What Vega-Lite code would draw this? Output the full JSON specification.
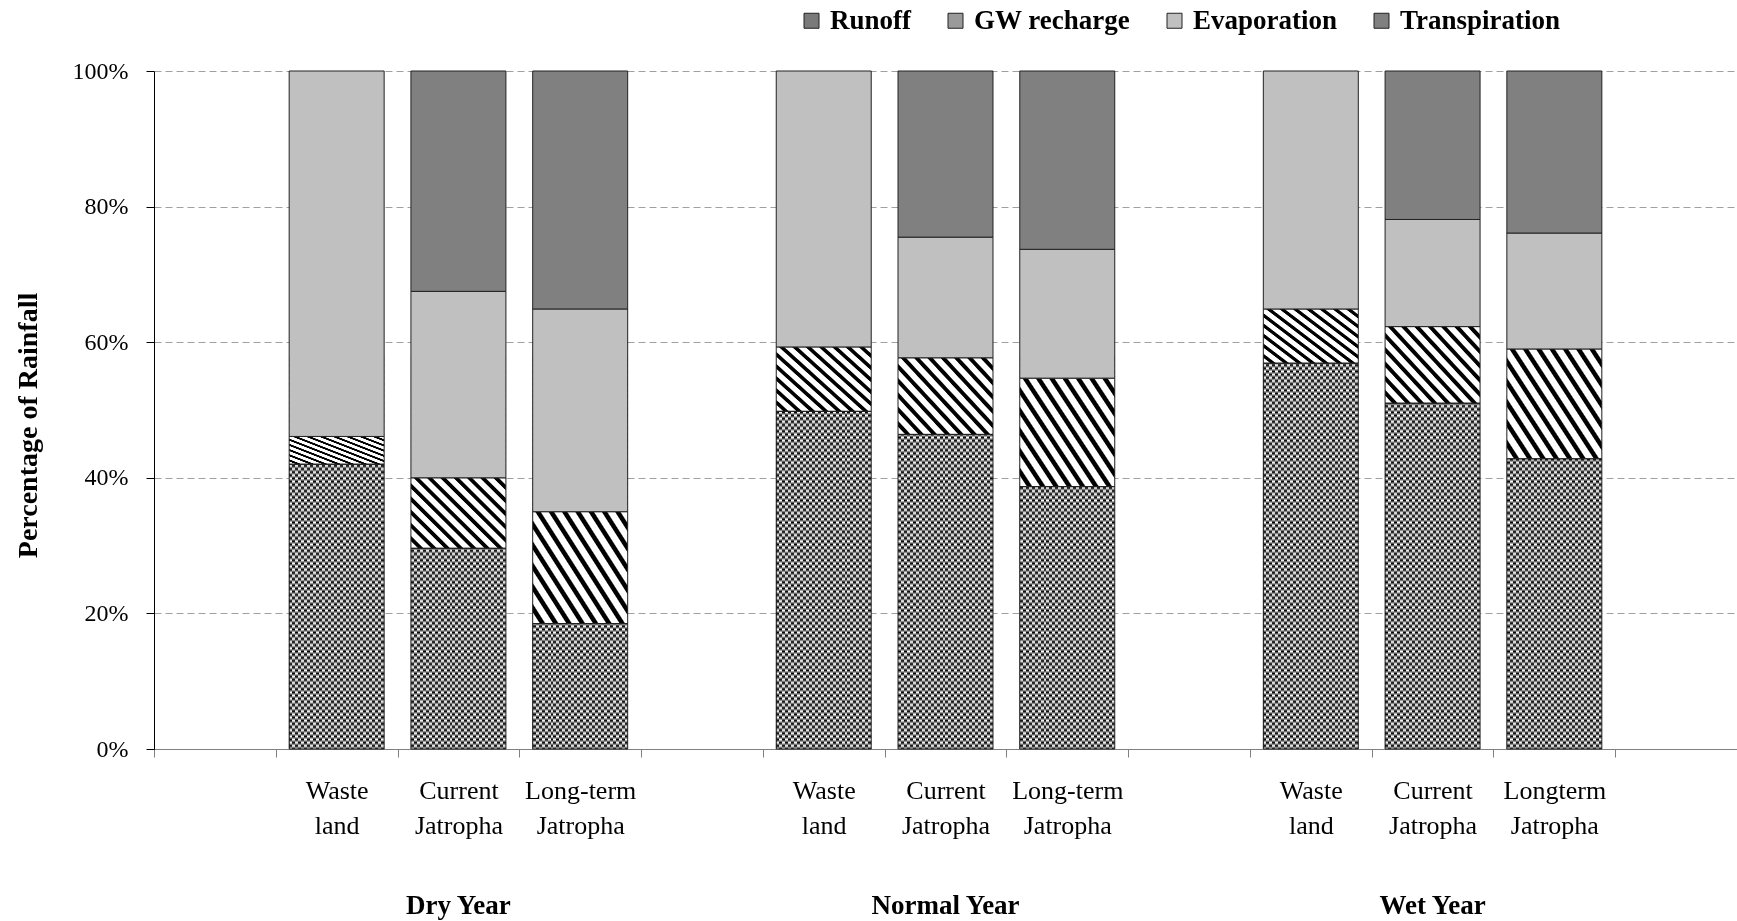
{
  "$schema": "https://vega.github.io/schema/vega-lite/v6.json",
  "width": 1583,
  "height": 678,
  "autosize": {"type": "none"},
  "padding": {"left": 154, "top": 71, "right": 0, "bottom": 172},
  "background": "white",
  "config": {
    "view": {"stroke": null},
    "font": "Liberation Serif",
    "legend": {
      "orient": "none",
      "legendX": 644,
      "legendY": -64,
      "direction": "horizontal",
      "title": null,
      "padding": 0,
      "labelFont": "Liberation Serif",
      "labelFontSize": 27,
      "labelFontWeight": "bold",
      "labelColor": "#000",
      "labelLimit": 0,
      "labelOffset": 5,
      "symbolType": "square",
      "symbolSize": 225,
      "symbolStrokeColor": "#222",
      "symbolStrokeWidth": 1,
      "columnPadding": 30
    }
  },
  "data": {
    "values": [
      {"year": "Dry Year", "bar": "Dry Year / Waste land", "component": "Runoff", "value": 42.0},
      {"year": "Dry Year", "bar": "Dry Year / Waste land", "component": "GW recharge", "value": 4.1},
      {"year": "Dry Year", "bar": "Dry Year / Waste land", "component": "Evaporation", "value": 53.9},
      {"year": "Dry Year", "bar": "Dry Year / Current Jatropha", "component": "Runoff", "value": 29.6},
      {"year": "Dry Year", "bar": "Dry Year / Current Jatropha", "component": "GW recharge", "value": 10.4},
      {"year": "Dry Year", "bar": "Dry Year / Current Jatropha", "component": "Evaporation", "value": 27.5},
      {"year": "Dry Year", "bar": "Dry Year / Current Jatropha", "component": "Transpiration", "value": 32.5},
      {"year": "Dry Year", "bar": "Dry Year / Long-term Jatropha", "component": "Runoff", "value": 18.5},
      {"year": "Dry Year", "bar": "Dry Year / Long-term Jatropha", "component": "GW recharge", "value": 16.5},
      {"year": "Dry Year", "bar": "Dry Year / Long-term Jatropha", "component": "Evaporation", "value": 29.9},
      {"year": "Dry Year", "bar": "Dry Year / Long-term Jatropha", "component": "Transpiration", "value": 35.1},
      {"year": "Normal Year", "bar": "Normal Year / Waste land", "component": "Runoff", "value": 49.8},
      {"year": "Normal Year", "bar": "Normal Year / Waste land", "component": "GW recharge", "value": 9.5},
      {"year": "Normal Year", "bar": "Normal Year / Waste land", "component": "Evaporation", "value": 40.7},
      {"year": "Normal Year", "bar": "Normal Year / Current Jatropha", "component": "Runoff", "value": 46.4},
      {"year": "Normal Year", "bar": "Normal Year / Current Jatropha", "component": "GW recharge", "value": 11.3},
      {"year": "Normal Year", "bar": "Normal Year / Current Jatropha", "component": "Evaporation", "value": 17.8},
      {"year": "Normal Year", "bar": "Normal Year / Current Jatropha", "component": "Transpiration", "value": 24.5},
      {"year": "Normal Year", "bar": "Normal Year / Long-term Jatropha", "component": "Runoff", "value": 38.7},
      {"year": "Normal Year", "bar": "Normal Year / Long-term Jatropha", "component": "GW recharge", "value": 16.0},
      {"year": "Normal Year", "bar": "Normal Year / Long-term Jatropha", "component": "Evaporation", "value": 19.0},
      {"year": "Normal Year", "bar": "Normal Year / Long-term Jatropha", "component": "Transpiration", "value": 26.3},
      {"year": "Wet Year", "bar": "Wet Year / Waste land", "component": "Runoff", "value": 56.9},
      {"year": "Wet Year", "bar": "Wet Year / Waste land", "component": "GW recharge", "value": 8.0},
      {"year": "Wet Year", "bar": "Wet Year / Waste land", "component": "Evaporation", "value": 35.1},
      {"year": "Wet Year", "bar": "Wet Year / Current Jatropha", "component": "Runoff", "value": 51.0},
      {"year": "Wet Year", "bar": "Wet Year / Current Jatropha", "component": "GW recharge", "value": 11.3},
      {"year": "Wet Year", "bar": "Wet Year / Current Jatropha", "component": "Evaporation", "value": 15.8},
      {"year": "Wet Year", "bar": "Wet Year / Current Jatropha", "component": "Transpiration", "value": 21.9},
      {"year": "Wet Year", "bar": "Wet Year / Longterm Jatropha", "component": "Runoff", "value": 42.8},
      {"year": "Wet Year", "bar": "Wet Year / Longterm Jatropha", "component": "GW recharge", "value": 16.2},
      {"year": "Wet Year", "bar": "Wet Year / Longterm Jatropha", "component": "Evaporation", "value": 17.1},
      {"year": "Wet Year", "bar": "Wet Year / Longterm Jatropha", "component": "Transpiration", "value": 23.9}
    ]
  },
  "transform": [
    {"calculate": "indexof(['Runoff','GW recharge','Evaporation','Transpiration'], datum.component)", "as": "k"},
    {"stack": "value", "groupby": ["bar"], "sort": [{"field": "k", "order": "ascending"}], "as": ["y0", "y1"]}
  ],
  "encoding": {
    "x": {
      "field": "bar",
      "type": "nominal",
      "sort": null,
      "title": null,
      "scale": {
        "domain": ["gap1", "Dry Year / Waste land", "Dry Year / Current Jatropha", "Dry Year / Long-term Jatropha", "gap2", "Normal Year / Waste land", "Normal Year / Current Jatropha", "Normal Year / Long-term Jatropha", "gap3", "Wet Year / Waste land", "Wet Year / Current Jatropha", "Wet Year / Longterm Jatropha", "gap4"],
        "paddingInner": 0,
        "paddingOuter": 0
      },
      "axis": {
        "labelExpr": "indexof(datum.label, ' / ') < 0 ? '' : split(split(datum.label, ' / ')[1], ' ')",
        "labelAngle": 0,
        "labelFont": "Liberation Serif",
        "labelFontSize": 26,
        "labelLineHeight": 35,
        "labelPadding": 20,
        "labelColor": "#000",
        "tickBand": "extent",
        "tickSize": 8,
        "tickColor": "#808080",
        "domainColor": "#808080",
        "grid": false
      }
    }
  },
  "layer": [
    {
      "transform": [{"filter": "datum.component === 'Runoff'"}],
      "mark": {
        "type": "bar",
        "width": {"band": 0.78},
        "strokeWidth": 0,
        "fill": {"gradient": "linear", "x1": 0, "y1": 0, "x2": 1, "y2": 0, "stops": [
          {"offset": 0, "color": "#000"}, {"offset": 0.03125, "color": "#000"},
          {"offset": 0.03125, "color": "#fff"}, {"offset": 0.0625, "color": "#fff"},
          {"offset": 0.0625, "color": "#000"}, {"offset": 0.09375, "color": "#000"},
          {"offset": 0.09375, "color": "#fff"}, {"offset": 0.125, "color": "#fff"},
          {"offset": 0.125, "color": "#000"}, {"offset": 0.15625, "color": "#000"},
          {"offset": 0.15625, "color": "#fff"}, {"offset": 0.1875, "color": "#fff"},
          {"offset": 0.1875, "color": "#000"}, {"offset": 0.21875, "color": "#000"},
          {"offset": 0.21875, "color": "#fff"}, {"offset": 0.25, "color": "#fff"},
          {"offset": 0.25, "color": "#000"}, {"offset": 0.28125, "color": "#000"},
          {"offset": 0.28125, "color": "#fff"}, {"offset": 0.3125, "color": "#fff"},
          {"offset": 0.3125, "color": "#000"}, {"offset": 0.34375, "color": "#000"},
          {"offset": 0.34375, "color": "#fff"}, {"offset": 0.375, "color": "#fff"},
          {"offset": 0.375, "color": "#000"}, {"offset": 0.40625, "color": "#000"},
          {"offset": 0.40625, "color": "#fff"}, {"offset": 0.4375, "color": "#fff"},
          {"offset": 0.4375, "color": "#000"}, {"offset": 0.46875, "color": "#000"},
          {"offset": 0.46875, "color": "#fff"}, {"offset": 0.5, "color": "#fff"},
          {"offset": 0.5, "color": "#000"}, {"offset": 0.53125, "color": "#000"},
          {"offset": 0.53125, "color": "#fff"}, {"offset": 0.5625, "color": "#fff"},
          {"offset": 0.5625, "color": "#000"}, {"offset": 0.59375, "color": "#000"},
          {"offset": 0.59375, "color": "#fff"}, {"offset": 0.625, "color": "#fff"},
          {"offset": 0.625, "color": "#000"}, {"offset": 0.65625, "color": "#000"},
          {"offset": 0.65625, "color": "#fff"}, {"offset": 0.6875, "color": "#fff"},
          {"offset": 0.6875, "color": "#000"}, {"offset": 0.71875, "color": "#000"},
          {"offset": 0.71875, "color": "#fff"}, {"offset": 0.75, "color": "#fff"},
          {"offset": 0.75, "color": "#000"}, {"offset": 0.78125, "color": "#000"},
          {"offset": 0.78125, "color": "#fff"}, {"offset": 0.8125, "color": "#fff"},
          {"offset": 0.8125, "color": "#000"}, {"offset": 0.84375, "color": "#000"},
          {"offset": 0.84375, "color": "#fff"}, {"offset": 0.875, "color": "#fff"},
          {"offset": 0.875, "color": "#000"}, {"offset": 0.90625, "color": "#000"},
          {"offset": 0.90625, "color": "#fff"}, {"offset": 0.9375, "color": "#fff"},
          {"offset": 0.9375, "color": "#000"}, {"offset": 0.96875, "color": "#000"},
          {"offset": 0.96875, "color": "#fff"}, {"offset": 1, "color": "#fff"}
        ]}
      },
      "encoding": {
        "y": {"field": "y0", "type": "quantitative", "title": "Percentage of Rainfall", "scale": {"domain": [0, 100]}},
        "y2": {"field": "y1"}
      }
    },
    {
      "transform": [{"filter": "datum.component === 'Runoff'"}],
      "mark": {
        "type": "bar",
        "width": {"band": 0.78},
        "strokeWidth": 0,
        "blend": "difference",
        "fill": {"gradient": "linear", "x1": 0, "y1": 0, "x2": 0, "y2": 1, "stops": [
          {"offset": 0, "color": "#000"}, {"offset": 0.008, "color": "#fff"}, {"offset": 0.016, "color": "#000"}, {"offset": 0.024, "color": "#fff"},
          {"offset": 0.032, "color": "#000"}, {"offset": 0.04, "color": "#fff"}, {"offset": 0.048, "color": "#000"}, {"offset": 0.056, "color": "#fff"},
          {"offset": 0.064, "color": "#000"}, {"offset": 0.072, "color": "#fff"}, {"offset": 0.08, "color": "#000"}, {"offset": 0.088, "color": "#fff"},
          {"offset": 0.096, "color": "#000"}, {"offset": 0.104, "color": "#fff"}, {"offset": 0.112, "color": "#000"}, {"offset": 0.12, "color": "#fff"},
          {"offset": 0.128, "color": "#000"}, {"offset": 0.136, "color": "#fff"}, {"offset": 0.144, "color": "#000"}, {"offset": 0.152, "color": "#fff"},
          {"offset": 0.16, "color": "#000"}, {"offset": 0.168, "color": "#fff"}, {"offset": 0.176, "color": "#000"}, {"offset": 0.184, "color": "#fff"},
          {"offset": 0.192, "color": "#000"}, {"offset": 0.2, "color": "#fff"}, {"offset": 0.208, "color": "#000"}, {"offset": 0.216, "color": "#fff"},
          {"offset": 0.224, "color": "#000"}, {"offset": 0.232, "color": "#fff"}, {"offset": 0.24, "color": "#000"}, {"offset": 0.248, "color": "#fff"},
          {"offset": 0.256, "color": "#000"}, {"offset": 0.264, "color": "#fff"}, {"offset": 0.272, "color": "#000"}, {"offset": 0.28, "color": "#fff"},
          {"offset": 0.288, "color": "#000"}, {"offset": 0.296, "color": "#fff"}, {"offset": 0.304, "color": "#000"}, {"offset": 0.312, "color": "#fff"},
          {"offset": 0.32, "color": "#000"}, {"offset": 0.328, "color": "#fff"}, {"offset": 0.336, "color": "#000"}, {"offset": 0.344, "color": "#fff"},
          {"offset": 0.352, "color": "#000"}, {"offset": 0.36, "color": "#fff"}, {"offset": 0.368, "color": "#000"}, {"offset": 0.376, "color": "#fff"},
          {"offset": 0.384, "color": "#000"}, {"offset": 0.392, "color": "#fff"}, {"offset": 0.4, "color": "#000"}, {"offset": 0.408, "color": "#fff"},
          {"offset": 0.416, "color": "#000"}, {"offset": 0.424, "color": "#fff"}, {"offset": 0.432, "color": "#000"}, {"offset": 0.44, "color": "#fff"},
          {"offset": 0.448, "color": "#000"}, {"offset": 0.456, "color": "#fff"}, {"offset": 0.464, "color": "#000"}, {"offset": 0.472, "color": "#fff"},
          {"offset": 0.48, "color": "#000"}, {"offset": 0.488, "color": "#fff"}, {"offset": 0.496, "color": "#000"}, {"offset": 0.504, "color": "#fff"},
          {"offset": 0.512, "color": "#000"}, {"offset": 0.52, "color": "#fff"}, {"offset": 0.528, "color": "#000"}, {"offset": 0.536, "color": "#fff"},
          {"offset": 0.544, "color": "#000"}, {"offset": 0.552, "color": "#fff"}, {"offset": 0.56, "color": "#000"}, {"offset": 0.568, "color": "#fff"},
          {"offset": 0.576, "color": "#000"}, {"offset": 0.584, "color": "#fff"}, {"offset": 0.592, "color": "#000"}, {"offset": 0.6, "color": "#fff"},
          {"offset": 0.608, "color": "#000"}, {"offset": 0.616, "color": "#fff"}, {"offset": 0.624, "color": "#000"}, {"offset": 0.632, "color": "#fff"},
          {"offset": 0.64, "color": "#000"}, {"offset": 0.648, "color": "#fff"}, {"offset": 0.656, "color": "#000"}, {"offset": 0.664, "color": "#fff"},
          {"offset": 0.672, "color": "#000"}, {"offset": 0.68, "color": "#fff"}, {"offset": 0.688, "color": "#000"}, {"offset": 0.696, "color": "#fff"},
          {"offset": 0.704, "color": "#000"}, {"offset": 0.712, "color": "#fff"}, {"offset": 0.72, "color": "#000"}, {"offset": 0.728, "color": "#fff"},
          {"offset": 0.736, "color": "#000"}, {"offset": 0.744, "color": "#fff"}, {"offset": 0.752, "color": "#000"}, {"offset": 0.76, "color": "#fff"},
          {"offset": 0.768, "color": "#000"}, {"offset": 0.776, "color": "#fff"}, {"offset": 0.784, "color": "#000"}, {"offset": 0.792, "color": "#fff"},
          {"offset": 0.8, "color": "#000"}, {"offset": 0.808, "color": "#fff"}, {"offset": 0.816, "color": "#000"}, {"offset": 0.824, "color": "#fff"},
          {"offset": 0.832, "color": "#000"}, {"offset": 0.84, "color": "#fff"}, {"offset": 0.848, "color": "#000"}, {"offset": 0.856, "color": "#fff"},
          {"offset": 0.864, "color": "#000"}, {"offset": 0.872, "color": "#fff"}, {"offset": 0.88, "color": "#000"}, {"offset": 0.888, "color": "#fff"},
          {"offset": 0.896, "color": "#000"}, {"offset": 0.904, "color": "#fff"}, {"offset": 0.912, "color": "#000"}, {"offset": 0.92, "color": "#fff"},
          {"offset": 0.928, "color": "#000"}, {"offset": 0.936, "color": "#fff"}, {"offset": 0.944, "color": "#000"}, {"offset": 0.952, "color": "#fff"},
          {"offset": 0.96, "color": "#000"}, {"offset": 0.968, "color": "#fff"}, {"offset": 0.976, "color": "#000"}, {"offset": 0.984, "color": "#fff"},
          {"offset": 0.992, "color": "#000"}, {"offset": 1, "color": "#fff"}
        ]}
      },
      "encoding": {
        "y": {"datum": 0, "type": "quantitative", "title": "Percentage of Rainfall"},
        "y2": {"datum": 58}
      }
    },
    {
      "transform": [{"filter": "datum.component === 'GW recharge'"}],
      "mark": {
        "type": "bar",
        "width": {"band": 0.78},
        "stroke": "#222",
        "strokeWidth": 1,
        "fill": {"gradient": "linear", "x1": 0, "y1": 1, "x2": 1.12, "y2": 0.16, "stops": [
          {"offset": 0, "color": "#fff"}, {"offset": 0.04, "color": "#fff"}, {"offset": 0.047, "color": "#000"}, {"offset": 0.072, "color": "#000"},
          {"offset": 0.08, "color": "#fff"}, {"offset": 0.12, "color": "#fff"}, {"offset": 0.127, "color": "#000"}, {"offset": 0.152, "color": "#000"},
          {"offset": 0.16, "color": "#fff"}, {"offset": 0.2, "color": "#fff"}, {"offset": 0.207, "color": "#000"}, {"offset": 0.232, "color": "#000"},
          {"offset": 0.24, "color": "#fff"}, {"offset": 0.28, "color": "#fff"}, {"offset": 0.287, "color": "#000"}, {"offset": 0.312, "color": "#000"},
          {"offset": 0.32, "color": "#fff"}, {"offset": 0.36, "color": "#fff"}, {"offset": 0.367, "color": "#000"}, {"offset": 0.392, "color": "#000"},
          {"offset": 0.4, "color": "#fff"}, {"offset": 0.44, "color": "#fff"}, {"offset": 0.447, "color": "#000"}, {"offset": 0.472, "color": "#000"},
          {"offset": 0.48, "color": "#fff"}, {"offset": 0.52, "color": "#fff"}, {"offset": 0.527, "color": "#000"}, {"offset": 0.552, "color": "#000"},
          {"offset": 0.56, "color": "#fff"}, {"offset": 0.6, "color": "#fff"}, {"offset": 0.607, "color": "#000"}, {"offset": 0.632, "color": "#000"},
          {"offset": 0.64, "color": "#fff"}, {"offset": 0.68, "color": "#fff"}, {"offset": 0.687, "color": "#000"}, {"offset": 0.712, "color": "#000"},
          {"offset": 0.72, "color": "#fff"}, {"offset": 0.76, "color": "#fff"}, {"offset": 0.767, "color": "#000"}, {"offset": 0.792, "color": "#000"},
          {"offset": 0.8, "color": "#fff"}, {"offset": 0.84, "color": "#fff"}, {"offset": 0.847, "color": "#000"}, {"offset": 0.872, "color": "#000"},
          {"offset": 0.88, "color": "#fff"}, {"offset": 0.92, "color": "#fff"}, {"offset": 0.927, "color": "#000"}, {"offset": 0.952, "color": "#000"},
          {"offset": 0.96, "color": "#fff"}, {"offset": 1, "color": "#fff"}
        ]}
      },
      "encoding": {
        "y": {"field": "y0", "type": "quantitative", "title": "Percentage of Rainfall"},
        "y2": {"field": "y1"}
      }
    },
    {
      "transform": [{"filter": "datum.component === 'Evaporation' || datum.component === 'Transpiration'"}],
      "mark": {"type": "bar", "width": {"band": 0.78}, "stroke": "#222", "strokeWidth": 1},
      "encoding": {
        "y": {
          "field": "y0",
          "type": "quantitative",
          "title": "Percentage of Rainfall",
          "scale": {"domain": [0, 100]},
          "axis": {
            "values": [0, 20, 40, 60, 80, 100],
            "labelExpr": "datum.value + '%'",
            "grid": true,
            "gridColor": "#a0a0a0",
            "gridDash": [7, 4],
            "gridWidth": 1,
            "domainColor": "#000",
            "tickColor": "#000",
            "tickSize": 8,
            "labelFont": "Liberation Serif",
            "labelFontSize": 24,
            "labelPadding": 18,
            "labelColor": "#000",
            "titleFont": "Liberation Serif",
            "titleFontSize": 28,
            "titleFontWeight": "bold",
            "titleColor": "#000",
            "titleX": -126,
            "titleY": 354,
            "titleAngle": -90,
            "titleAlign": "center",
            "titleBaseline": "middle"
          }
        },
        "y2": {"field": "y1"},
        "color": {
          "field": "component",
          "type": "nominal",
          "scale": {
            "domain": ["Runoff", "GW recharge", "Evaporation", "Transpiration"],
            "range": ["#7a7a7a", "#9a9a9a", "#c0c0c0", "#808080"]
          },
          "legend": {
            "encode": {
              "symbols": {
                "update": {
                  "stroke": {"value": "#222"},
                  "strokeWidth": {"value": 1}
                }
              }
            }
          }
        }
      }
    },
    {
      "transform": [{"filter": "datum.component === 'Runoff'"}],
      "mark": {"type": "bar", "width": {"band": 0.78}, "fill": "transparent", "stroke": "#222", "strokeWidth": 1},
      "encoding": {
        "y": {"field": "y0", "type": "quantitative", "title": "Percentage of Rainfall"},
        "y2": {"field": "y1"}
      }
    },
    {
      "transform": [{"filter": "indexof(datum.bar, 'Current') >= 0 && datum.component === 'Runoff'"}],
      "mark": {"type": "text", "font": "Liberation Serif", "fontSize": 27, "fontWeight": "bold", "color": "#000", "baseline": "alphabetic", "align": "center", "dy": 165},
      "encoding": {
        "y": {"datum": 0, "type": "quantitative", "title": "Percentage of Rainfall"},
        "text": {"field": "year"}
      }
    }
  ]
}
